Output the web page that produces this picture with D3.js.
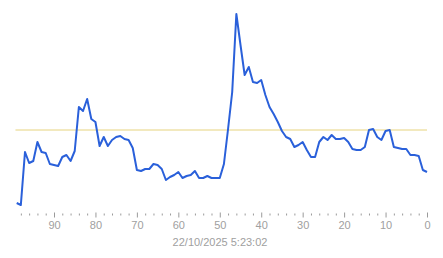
<!DOCTYPE html>
<html><head><meta charset="utf-8">
<script src="https://cdn.jsdelivr.net/npm/d3@7"></script>
<style>
html,body{margin:0;padding:0;background:#fff;}
svg{display:block;}
</style></head>
<body>
<svg id="c" width="443" height="258"></svg>
<script>
// ages (x values), from oldest to newest
const ages = d3.range(99, -1, -1);
// series values (arbitrary units), one per age in the same order
const values = [7,5,58,47,49,68,58,57,46,45,44,53,55,49,59,103,99,111,91,88,
  64,73,64,70,73,74,71,70,62,40,39,41,41,46,45,41,30,33,35,38,
  32,34,35,39,32,32,34,32,32,32,46,81,118,196,165,135,143,128,127,130,
  115,103,96,88,79,73,71,63,65,68,60,53,53,68,73,70,75,71,71,72,
  68,61,60,60,63,80,81,73,70,79,80,63,62,61,61,55,55,54,40,38];
const threshold = 80;
const majorTicks = [90,80,70,60,50,40,30,20,10,0];
const minorTicks = d3.range(98, 0, -2).filter(v => v % 10 !== 0);
const dateLabel = "22/10/2025 5:23:02";

const svg = d3.select("#c");
const x = d3.scaleLinear().domain([99, 0]).range([16.7, 427]);
const y = d3.scaleLinear().domain([0, 200]).range([210, 10]);

// threshold line
svg.append("line")
  .attr("x1", x(99.3)).attr("x2", x(0))
  .attr("y1", y(threshold)).attr("y2", y(threshold))
  .attr("stroke", "#e6d37f").attr("stroke-width", 1);

// series line
const data = ages.map((a, i) => ({a, v: values[i]}));
svg.append("path").datum(data)
  .attr("fill", "none")
  .attr("stroke", "#2a60da")
  .attr("stroke-width", 2)
  .attr("stroke-linejoin", "round")
  .attr("d", d3.line().x(d => x(d.a)).y(d => y(d.v)));

// minor ticks
const minor = svg.append("g").attr("transform", "translate(0,213.5)")
  .call(d3.axisBottom(x).tickValues(minorTicks).tickSize(2).tickFormat(""));
minor.select(".domain").remove();
minor.selectAll(".tick line").attr("stroke", "#9a9a9a");

// major ticks
const major = svg.append("g").attr("transform", "translate(0,212.5)")
  .call(d3.axisBottom(x).tickValues(majorTicks).tickSize(5).tickPadding(4).tickFormat(d3.format("d")));
major.select(".domain").remove();
major.selectAll(".tick line").attr("stroke", "#9a9a9a");
major.selectAll(".tick text")
  .attr("fill", "#a0a0a0")
  .style("font-family", "'Liberation Sans', Arial, sans-serif")
  .style("font-size", "11px");

svg.append("text")
  .attr("x", 220).attr("y", 245.5)
  .attr("text-anchor", "middle")
  .attr("fill", "#a0a0a0")
  .style("font-family", "'Liberation Sans', Arial, sans-serif")
  .style("font-size", "11px")
  .text(dateLabel);
</script>
</body></html>
